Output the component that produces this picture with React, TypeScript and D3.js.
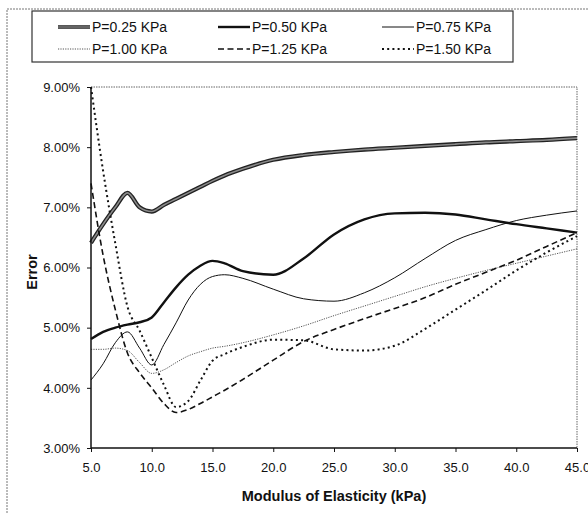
import React, { useEffect, useRef } from 'react';
import * as d3 from 'd3';

// modulus of elasticity (kPa)
const modulus = [5, 6, 7, 8, 9, 10, 11, 12, 13, 14, 15, 16, 17.5, 20, 22.5, 25, 27.5, 30, 32.5, 35, 37.5, 40, 42.5, 45];

const seriesNames = ['P=0.25 KPa', 'P=0.50 KPa', 'P=0.75 KPa', 'P=1.00 KPa', 'P=1.25 KPa', 'P=1.50 KPa'];

// error in %
const p025 = [6.41, 6.72, 7.0, 7.24, 7.0, 6.93, 7.04, 7.14, 7.24, 7.34, 7.44, 7.53, 7.64, 7.79, 7.87, 7.92, 7.96, 7.99, 8.02, 8.05, 8.08, 8.1, 8.12, 8.15];
const p050 = [4.81, 4.93, 5.0, 5.05, 5.09, 5.17, 5.42, 5.67, 5.88, 6.03, 6.11, 6.07, 5.94, 5.88, 6.15, 6.55, 6.8, 6.9, 6.91, 6.88, 6.8, 6.72, 6.65, 6.58];
const p075 = [4.13, 4.4, 4.75, 4.93, 4.66, 4.38, 4.72, 5.08, 5.46, 5.72, 5.85, 5.88, 5.82, 5.64, 5.48, 5.44, 5.58, 5.83, 6.15, 6.45, 6.63, 6.78, 6.87, 6.94];
const p100 = [4.64, 4.64, 4.66, 4.62, 4.42, 4.24, 4.3, 4.42, 4.53, 4.6, 4.66, 4.69, 4.75, 4.88, 5.03, 5.2, 5.36, 5.52, 5.68, 5.82, 5.95, 6.07, 6.19, 6.31];
const p125 = [7.4, 6.2, 5.3, 4.58, 4.25, 4.0, 3.74, 3.59, 3.64, 3.74, 3.85, 3.96, 4.14, 4.46, 4.77, 4.97, 5.15, 5.32, 5.5, 5.72, 5.92, 6.12, 6.35, 6.58];
const p150 = [9.0, 7.6, 6.4, 5.35, 4.95, 4.5, 4.05, 3.68, 3.78, 4.12, 4.45, 4.56, 4.68, 4.8, 4.79, 4.64, 4.62, 4.7, 4.98, 5.3, 5.62, 5.95, 6.25, 6.52];

const seriesValues = [p025, p050, p075, p100, p125, p150];

const xTicks = [5, 10, 15, 20, 25, 30, 35, 40, 45];
const yTicks = [3, 4, 5, 6, 7, 8, 9];

const styles = [
  { stroke: '#222', width: 4.2, dash: null, inner: '#8a8a8a' },
  { stroke: '#111', width: 2.4, dash: null },
  { stroke: '#111', width: 1, dash: null },
  { stroke: '#555', width: 1, dash: '1.2,1.2' },
  { stroke: '#111', width: 1.6, dash: '6,3.5' },
  { stroke: '#111', width: 2, dash: '2,3.2' },
];

export default function App() {
  const ref = useRef<SVGSVGElement>(null);
  const width = 588;
  const height = 513;

  useEffect(() => {
    const svg = d3.select(ref.current);
    svg.selectAll('*').remove();
    const font = '"Liberation Sans", Arial, sans-serif';

    const x = d3.scaleLinear().domain([5, 45]).range([91, 577]);
    const y = d3.scaleLinear().domain([3, 9]).range([448, 87]);

    // outer frame
    svg.append('path')
      .attr('d', `M7,513 L7,9 L588,9`)
      .attr('fill', 'none')
      .attr('stroke', '#777')
      .attr('stroke-width', 1)
      .attr('stroke-dasharray', '2,1');

    // plot frame top / right (dotted)
    svg.append('path')
      .attr('d', `M${x(5)},${y(9)} L${x(45)},${y(9)} L${x(45)},${y(3)}`)
      .attr('fill', 'none')
      .attr('stroke', '#666')
      .attr('stroke-width', 1)
      .attr('stroke-dasharray', '1.5,1');

    // lines
    const line = d3.line<number>()
      .x((_, i) => x(modulus[i]))
      .y(d => y(d))
      .curve(d3.curveMonotoneX);

    const plot = svg.append('g');
    seriesValues.forEach((vals, i) => {
      const s = styles[i];
      const p = plot.append('path')
        .attr('d', line(vals))
        .attr('fill', 'none')
        .attr('stroke', s.stroke)
        .attr('stroke-width', s.width)
        .attr('stroke-linejoin', 'round');
      if (s.dash) p.attr('stroke-dasharray', s.dash);
      if (s.inner) {
        plot.append('path')
          .attr('d', line(vals))
          .attr('fill', 'none')
          .attr('stroke', s.inner)
          .attr('stroke-width', 1.6);
      }
    });

    // axes
    const xAxis = d3.axisBottom(x).tickValues(xTicks).tickFormat(d => (+d).toFixed(1)).tickSize(4).tickPadding(11);
    const yAxis = d3.axisLeft(y).tickValues(yTicks).tickFormat(d => (+d).toFixed(2) + '%').tickSize(4).tickPadding(7);

    const gx = svg.append('g').attr('transform', `translate(0,${y(3)})`).call(xAxis);
    const gy = svg.append('g').attr('transform', `translate(${x(5)},0)`).call(yAxis);
    [gx, gy].forEach(g => {
      g.select('.domain').attr('stroke', '#111').attr('stroke-width', 1.5);
      g.selectAll('.tick line').attr('stroke', '#111');
      g.selectAll('.tick text')
        .attr('fill', '#111')
        .style('font-family', font)
        .style('font-size', '13px');
    });
    gx.select('.domain').attr('d', `M${x(5)},0H${x(45)}`);
    gy.select('.domain').attr('d', `M0,${y(3)}V${y(9)}`);

    // axis titles
    svg.append('text')
      .attr('x', 334).attr('y', 501)
      .attr('text-anchor', 'middle')
      .style('font-family', font).style('font-size', '14.5px').style('font-weight', 'bold')
      .attr('fill', '#111')
      .text('Modulus of Elasticity (kPa)');
    svg.append('text')
      .attr('transform', `translate(37,${272}) rotate(-90)`)
      .attr('text-anchor', 'middle')
      .style('font-family', font).style('font-size', '14.5px').style('font-weight', 'bold')
      .attr('fill', '#111')
      .text('Error');

    // legend
    const lg = svg.append('g');
    lg.append('rect')
      .attr('x', 32).attr('y', 11).attr('width', 481).attr('height', 51)
      .attr('fill', 'white').attr('stroke', '#333').attr('stroke-width', 1.2);
    const colX = [58, 218, 382];
    const rowY = [27, 49];
    seriesNames.forEach((name, i) => {
      const cx = colX[i % 3];
      const cy = rowY[Math.floor(i / 3)];
      const s = styles[i];
      const l = lg.append('line')
        .attr('x1', cx).attr('x2', cx + 32).attr('y1', cy).attr('y2', cy)
        .attr('stroke', s.stroke).attr('stroke-width', Math.min(s.width, 3.5));
      if (s.dash) l.attr('stroke-dasharray', s.dash);
      if (s.inner) {
        lg.append('line')
          .attr('x1', cx).attr('x2', cx + 32).attr('y1', cy).attr('y2', cy)
          .attr('stroke', s.inner).attr('stroke-width', 1.3);
      }
      lg.append('text')
        .attr('x', cx + 34).attr('y', cy + 5)
        .style('font-family', font).style('font-size', '14px')
        .attr('fill', '#111')
        .text(name);
    });
  }, []);

  return (
    <svg ref={ref} width={width} height={height}
      style={{ position: 'absolute', left: 0, top: 0, background: 'white' }} />
  );
}
